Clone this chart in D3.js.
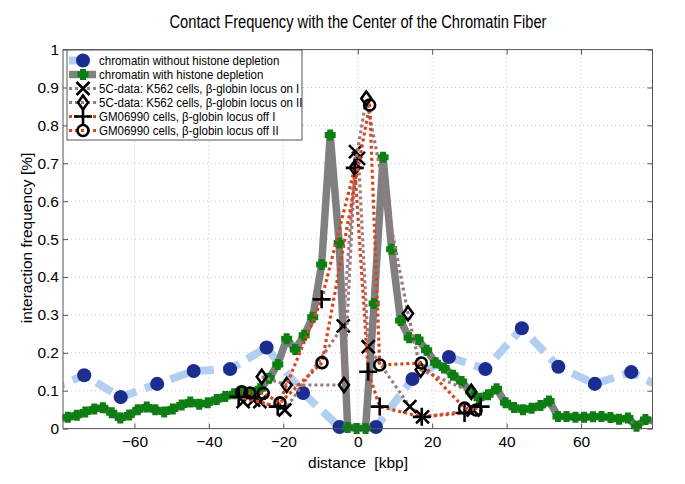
<!DOCTYPE html>
<html>
<head>
<meta charset="utf-8">
<script src="https://cdn.jsdelivr.net/npm/d3@7"></script>
<style>
  body { margin: 0; background: #fff; }
  text { font-family: 'Liberation Sans', Arial, Helvetica, sans-serif; fill: #000; }
</style>
</head>
<body>
<svg id="chart" width="685" height="484"></svg>
<script>
// tick labels
const xTicks = [-60, -40, -20, 0, 20, 40, 60];
const yTicks = [0, 0.1, 0.2, 0.3, 0.4, 0.5, 0.6, 0.7, 0.8, 0.9, 1];

// chromatin without histone depletion
const blueX = [-83.3, -73.5, -63.7, -53.9, -44.1, -34.3, -24.5, -14.7, -4.9, 4.9, 14.7, 24.5, 34.3, 44.1, 53.9, 63.7, 73.5, 83.3];
const blueY = [0.1, 0.141, 0.083, 0.118, 0.152, 0.157, 0.214, 0.094, 0.004, 0.004, 0.131, 0.189, 0.157, 0.265, 0.163, 0.118, 0.149, 0.1];

// chromatin with histone depletion
const greenX = [-80.2, -77.9, -75.5, -73.2, -70.8, -68.5, -66.1, -63.8, -61.4, -59.1, -56.7, -54.4, -52.0, -49.7, -47.3, -45.0, -42.6, -40.3, -37.9, -35.6, -33.2, -30.9, -28.5, -26.2, -23.8, -21.5, -19.1, -16.8, -14.4, -12.1, -9.7, -7.4, -5.0, -2.7, -0.3, 2.1, 4.4, 6.8, 9.1, 11.5, 13.8, 16.2, 18.5, 20.9, 23.2, 25.6, 27.9, 30.3, 32.6, 35.0, 37.3, 39.7, 42.0, 44.4, 46.7, 49.1, 51.4, 53.8, 56.1, 58.5, 60.8, 63.2, 65.5, 67.9, 70.2, 72.6, 74.9, 77.3, 79.6];
const greenY = [0.025, 0.03, 0.035, 0.044, 0.052, 0.055, 0.042, 0.028, 0.036, 0.05, 0.057, 0.05, 0.044, 0.052, 0.062, 0.07, 0.064, 0.068, 0.077, 0.085, 0.092, 0.098, 0.095, 0.105, 0.133, 0.169, 0.237, 0.209, 0.246, 0.294, 0.433, 0.775, 0.49, 0.003, 0, 0, 0.33, 0.716, 0.473, 0.285, 0.24, 0.235, 0.207, 0.174, 0.16, 0.141, 0.124, 0.098, 0.08, 0.089, 0.105, 0.068, 0.056, 0.05, 0.054, 0.061, 0.073, 0.032, 0.032, 0.03, 0.03, 0.031, 0.032, 0.029, 0.025, 0.028, 0.006, 0.024, 0.02];

// 5C-data: K562 cells, beta-globin locus on I
const onIX = [-30.8, -28, -26.3, -19.6, -3.9, -0.6, 0.2, 2.8, 14, 17.4, 31];
const onIY = [0.071, 0.075, 0.071, 0.049, 0.271, 0.731, 0.713, 0.216, 0.058, 0.031, 0.049];

// 5C-data: K562 cells, beta-globin locus on II
const onIIX = [-25.8, -19.1, -3.7, -0.8, 2.3, 13.5, 16.9, 30.5];
const onIIY = [0.137, 0.115, 0.115, 0.688, 0.871, 0.304, 0.155, 0.097];

// GM06990 cells, beta-globin locus off I
const offIX = [-32, -21.5, -9.7, -0.8, 2.8, 5.9, 17.2, 28.7, 33];
const offIY = [0.084, 0.058, 0.341, 0.688, 0.15, 0.058, 0.031, 0.041, 0.058];

// GM06990 cells, beta-globin locus off II
const offIIX = [-31.2, -29, -25.4, -20.9, -9.6, 3.2, 5.9, 17.1, 28.7, 31.8];
const offIIY = [0.097, 0.094, 0.093, 0.068, 0.174, 0.854, 0.168, 0.173, 0.054, 0.049];

const legendLabels = [
  'chromatin without histone depletion',
  'chromatin with histone depletion',
  '5C-data: K562 cells, β-globin locus on I',
  '5C-data: K562 cells, β-globin locus on II',
  'GM06990 cells, β-globin locus off I',
  'GM06990 cells, β-globin locus off II'
];

const plotLeft = 63, plotRight = 652.5, plotTop = 49.6, plotBottom = 428.6;
const svg = d3.select('#chart');

const x = d3.scaleLinear().domain([-79.2, 79.2]).range([plotLeft, plotRight]);
const y = d3.scaleLinear().domain([0, 1]).range([plotBottom, plotTop]);

const zip = (xs, ys) => xs.map((v, i) => [v, ys[i]]);

// marker shapes, centered on 0,0
const shapes = {
  dot: () => d3.symbol(d3.symbolCircle, 155)(),
  block: () => 'M-3,-5.5L3,-5.5L3,-3L5.5,-3L5.5,3L3,3L3,5.5L-3,5.5L-3,3L-5.5,3L-5.5,-3L-3,-3Z',
  cross: () => 'M-6.5,-6.5L6.5,6.5M-6.5,6.5L6.5,-6.5',
  diamond: () => 'M0,-7L5,0L0,7L-5,0Z',
  plus: () => 'M-9,0L9,0M0,-9L0,9',
  ring: () => d3.symbol(d3.symbolCircle, 95)()
};

const series = [
  { data: zip(blueX, blueY), line: '#b3cff0', width: 8, dash: '18,9', shape: 'dot', fill: '#1b2d8f', stroke: 'none' },
  { data: zip(greenX, greenY), line: '#808080', width: 7.5, dash: null, shape: 'block', fill: '#0d7f12', stroke: 'none' },
  { data: zip(onIX, onIY), line: '#a07c80', width: 3.2, dash: '3,3', shape: 'cross', fill: 'none', stroke: '#000' },
  { data: zip(onIIX, onIIY), line: '#9a7a7a', width: 3.2, dash: '3,3', shape: 'diamond', fill: 'none', stroke: '#000' },
  { data: zip(offIX, offIY), line: '#d8441c', width: 3.2, dash: '3,3', shape: 'plus', fill: 'none', stroke: '#000' },
  { data: zip(offIIX, offIIY), line: '#d8441c', width: 3.2, dash: '3,3', shape: 'ring', fill: 'none', stroke: '#000' }
];

svg.append('defs').append('clipPath').attr('id', 'plotClip')
  .append('rect')
  .attr('x', plotLeft).attr('y', plotTop)
  .attr('width', plotRight - plotLeft).attr('height', plotBottom - plotTop);

// grid
const grid = svg.append('g').attr('stroke', '#c4c4c4').attr('stroke-width', 1).attr('stroke-dasharray', '1,3');
grid.selectAll('line.gx')
  .data(xTicks)
  .join('line')
  .attr('x1', (d) => x(d)).attr('x2', (d) => x(d))
  .attr('y1', plotTop).attr('y2', plotBottom);
grid.selectAll('line.gy')
  .data(yTicks.filter((d) => d > 0 && d < 1))
  .join('line')
  .attr('class', 'gy')
  .attr('x1', plotLeft).attr('x2', plotRight)
  .attr('y1', (d) => y(d)).attr('y2', (d) => y(d));

// axes (ticks inside, MATLAB style)
svg.append('g')
  .attr('transform', `translate(0,${plotBottom})`)
  .call(d3.axisBottom(x).tickValues(xTicks).tickSizeInner(-5).tickSizeOuter(0).tickPadding(7));
svg.append('g')
  .attr('transform', `translate(${plotLeft},0)`)
  .call(d3.axisLeft(y).tickValues(yTicks).tickFormat(d3.format('~g')).tickSizeInner(-5).tickSizeOuter(0).tickPadding(4));
svg.append('g')
  .attr('transform', `translate(0,${plotTop})`)
  .call(d3.axisTop(x).tickValues(xTicks).tickSizeInner(-5).tickSizeOuter(0).tickFormat(''));
svg.append('g')
  .attr('transform', `translate(${plotRight},0)`)
  .call(d3.axisRight(y).tickValues(yTicks).tickSizeInner(-5).tickSizeOuter(0).tickFormat(''));
svg.selectAll('.domain').remove();
svg.selectAll('.tick line').attr('stroke', '#555');
svg.selectAll('.tick text').style('font-size', '15.5px').style('font-family', "'Liberation Sans', Arial, sans-serif").attr('fill', '#000');

// data lines and markers
const line = d3.line().x((d) => x(d[0])).y((d) => y(d[1]));
const inside = (d) => d[0] >= -79.2 && d[0] <= 79.2;

series.forEach((s) => {
  const g = svg.append('g');
  g.append('path')
    .attr('d', line(s.data))
    .attr('clip-path', 'url(#plotClip)')
    .attr('fill', 'none')
    .attr('stroke', s.line)
    .attr('stroke-width', s.width)
    .attr('stroke-dasharray', s.dash)
    .attr('stroke-linejoin', 'round');
  g.selectAll('path.mk')
    .data(s.data.filter(inside))
    .join('path')
    .attr('class', 'mk')
    .attr('d', shapes[s.shape]())
    .attr('transform', (d) => `translate(${x(d[0])},${y(d[1])})`)
    .attr('fill', s.fill)
    .attr('stroke', s.stroke)
    .attr('stroke-width', 2.6);
});

// axes box
svg.append('rect')
  .attr('x', plotLeft).attr('y', plotTop)
  .attr('width', plotRight - plotLeft).attr('height', plotBottom - plotTop)
  .attr('fill', 'none').attr('stroke', '#555').attr('stroke-width', 1);

// legend
const legend = svg.append('g');
legend.append('rect')
  .attr('x', 67).attr('y', 50).attr('width', 235).attr('height', 90)
  .attr('fill', '#fff').attr('stroke', '#555').attr('stroke-width', 1);
const rows = legend.selectAll('g.row')
  .data(series)
  .join('g')
  .attr('class', 'row')
  .attr('transform', (d, i) => `translate(0,${60.5 + i * 14})`);
rows.append('line')
  .attr('x1', 69).attr('x2', 96).attr('y1', 0).attr('y2', 0)
  .attr('stroke', (d) => d.line)
  .attr('stroke-width', (d) => d.width)
  .attr('stroke-dasharray', (d) => d.dash);
rows.append('path')
  .attr('d', (d) => shapes[d.shape]())
  .attr('transform', 'translate(83,0)')
  .attr('fill', (d) => d.fill)
  .attr('stroke', (d) => d.stroke)
  .attr('stroke-width', 2.6);
rows.append('text')
  .attr('x', 99).attr('y', 4.8)
  .style('font-size', '12.5px')
  .text((d, i) => legendLabels[i])
  .each(function () {
    // reference text is set narrower than Liberation Sans
    const w = this.getComputedTextLength();
    d3.select(this).attr('textLength', w * 0.92).attr('lengthAdjust', 'spacingAndGlyphs');
  });

// titles
svg.append('text')
  .attr('x', 358).attr('y', 28)
  .attr('text-anchor', 'middle')
  .attr('textLength', 377)
  .attr('lengthAdjust', 'spacingAndGlyphs')
  .style('font-size', '17.5px')
  .text('Contact Frequency with the Center of the Chromatin Fiber');
svg.append('text')
  .attr('x', 358).attr('y', 468)
  .attr('text-anchor', 'middle')
  .style('font-size', '15.5px')
  .style('white-space', 'pre')
  .text('distance  [kbp]');
svg.append('text')
  .attr('transform', 'translate(32,238) rotate(-90)')
  .attr('text-anchor', 'middle')
  .style('font-size', '15.5px')
  .text('interaction frequency [%]');
</script>
</body>
</html>
